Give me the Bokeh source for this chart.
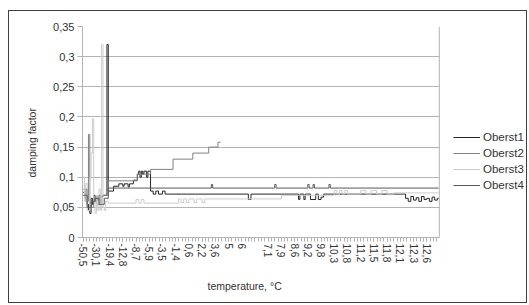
from bokeh.plotting import figure
from bokeh.models import FixedTicker, Legend, LegendItem, Range1d, Span, Title
from bokeh.embed import file_html
from bokeh.resources import INLINE

# ---- data -------------------------------------------------------------
n_categories = 270
label_every = 10
x_labels = ["-50,5", "-30,1", "-19,4", "-12,8", "-8,7", "-5,9", "-3,5", "-1,4",
            "0,6", "2,2", "3,6", "5", "6", "", "7,1", "7,9", "8,6", "9,2", "9,8",
            "10,3", "10,8", "11,2", "11,5", "11,8", "12,1", "12,3", "12,6"]

y_ticks = [0, 0.05, 0.1, 0.15, 0.2, 0.25, 0.3, 0.35]
y_labels = ["0", "0,05", "0,1", "0,15", "0,2", "0,25", "0,3", "0,35"]

x_title = "temperature, °C"
y_title = "damping factor"

# each series: category index where a value starts, and the value
o1_idx = [0, 1, 2, 3, 4, 5, 6, 7, 8, 9, 10, 11, 12, 13, 14, 15, 16, 17, 18, 19,
          23, 27, 30, 31, 34, 35, 38, 41, 42, 43, 44, 45, 46, 48, 49, 51, 53, 55, 57, 60, 62,
          125, 127, 163, 164, 167, 168, 172, 176, 178, 180, 182,
          244, 246, 248, 250, 252, 254, 256, 258, 260, 262, 264, 266, 268, 269]
o1_val = [0.075, 0.065, 0.08, 0.055, 0.045, 0.04, 0.065, 0.055, 0.07, 0.06, 0.068, 0.062,
          0.07, 0.058, 0.068, 0.07, 0.07, 0.07, 0.32, 0.077,
          0.085, 0.089, 0.085, 0.089, 0.084, 0.089, 0.095, 0.105, 0.11, 0.1, 0.11, 0.105,
          0.11, 0.1, 0.11, 0.077, 0.072, 0.077, 0.072, 0.077, 0.072,
          0.063, 0.072, 0.063, 0.072, 0.063, 0.072, 0.063, 0.072, 0.063, 0.067, 0.072,
          0.065, 0.06, 0.068, 0.062, 0.066, 0.06, 0.068, 0.063, 0.065, 0.06, 0.067, 0.062,
          0.065, 0.065]

o2_idx = [0, 2, 4, 5, 6, 8, 10, 12, 14, 17, 19, 41, 51, 68, 83, 95, 102, 104]
o2_val = [0.08, 0.06, 0.171, 0.045, 0.05, 0.06, 0.055, 0.065, 0.07, 0.07, 0.094, 0.105,
          0.113, 0.13, 0.14, 0.15, 0.158, 0.158]

o3_idx = [0, 1, 2, 3, 5, 6, 7, 8, 9, 10, 11, 12, 13, 14, 15, 16, 17, 19,
          40, 42, 44, 46,
          72, 74, 76, 78, 80, 84, 86, 90, 92,
          150,
          190, 192, 194, 196, 198, 200,
          210, 214, 218, 222, 226, 230, 235,
          269]
o3_val = [0.1, 0.06, 0.09, 0.045, 0.1, 0.14, 0.197, 0.06, 0.04, 0.07, 0.045, 0.08, 0.045,
          0.32, 0.05, 0.045, 0.06, 0.057,
          0.063, 0.057, 0.063, 0.057,
          0.064, 0.058, 0.064, 0.058, 0.064, 0.058, 0.064, 0.058, 0.064,
          0.07,
          0.078, 0.072, 0.078, 0.072, 0.078, 0.072,
          0.078, 0.072, 0.078, 0.072, 0.078, 0.072, 0.074,
          0.074]

o4_idx = [0, 3, 6, 9, 12, 16, 19, 97, 98, 145, 146, 170, 171, 174, 175, 186, 187, 269]
o4_val = [0.07, 0.05, 0.06, 0.065, 0.055, 0.065, 0.082, 0.088, 0.082, 0.088, 0.082,
          0.088, 0.082, 0.088, 0.082, 0.088, 0.082, 0.082]

series = [
    ("Oberst1", o1_idx, o1_val, "#262626"),
    ("Oberst2", o2_idx, o2_val, "#808080"),
    ("Oberst3", o3_idx, o3_val, "#cccccc"),
    ("Oberst4", o4_idx, o4_val, "#595959"),
]

# ---- figure -----------------------------------------------------------
FONT = "Liberation Sans"
TXT = "#333333"
GRID = "#b3b3b3"
x_end = n_categories - 0.5          # last category edge (plot-wall right side)
x_view_end = 337.0                  # frame also hosts the legend on the right

p = figure(width=519, height=293, output_backend="svg", toolbar_location=None,
           x_range=Range1d(-0.5, x_view_end), y_range=Range1d(0, 0.35),
           min_border_left=73, min_border_right=0, min_border_top=15,
           min_border_bottom=65)
p.styles = {"border": "1px solid #404040", "margin-left": "8px", "margin-top": "10px"}
p.outline_line_color = None
p.background_fill_color = "white"
p.border_fill_color = "white"

p.xgrid.visible = False
p.ygrid.grid_line_color = GRID
p.ygrid.ticker = FixedTicker(ticks=y_ticks)
if "cross_bounds" in p.ygrid[0].properties():
    p.ygrid.cross_bounds = (-0.5, x_end)

# right side of the plot wall
p.add_layout(Span(location=x_end, dimension="height", line_color=GRID, line_width=1))

# y axis
p.yaxis.ticker = FixedTicker(ticks=y_ticks)
p.yaxis.major_label_overrides = {t: l for t, l in zip(y_ticks, y_labels)}
p.yaxis.minor_tick_line_color = None
p.yaxis.major_tick_in = 0
p.yaxis.major_tick_out = 5
p.yaxis.major_label_standoff = 3

# x axis
p.xaxis.bounds = (-0.5, x_end)
p.xaxis.ticker = FixedTicker(ticks=[label_every * j for j in range(len(x_labels))],
                             minor_ticks=[2.5 * k for k in range(108)])
p.xaxis.major_label_overrides = {label_every * j: l for j, l in enumerate(x_labels)}
p.xaxis.major_label_orientation = "vertical"
p.xaxis.major_tick_in = 0
p.xaxis.major_tick_out = 4
p.xaxis.minor_tick_in = 0
p.xaxis.minor_tick_out = 4
p.xaxis.major_label_standoff = 2

for ax in (p.xaxis, p.yaxis):
    ax.axis_line_color = GRID
    ax.major_tick_line_color = GRID
    ax.major_label_text_font = FONT
    ax.major_label_text_color = TXT
p.xaxis.minor_tick_line_color = GRID
p.yaxis.major_label_text_font_size = "11px"
p.xaxis.major_label_text_font_size = "10px"

# axis titles (centred on the whole diagram, as in the original)
p.add_layout(Title(text=x_title, align="left", offset=125, vertical_align="top",
                   standoff=21, text_font=FONT, text_font_size="10.5px",
                   text_font_style="normal", text_color=TXT), "below")
p.add_layout(Title(text=y_title, align="left", offset=60, vertical_align="bottom",
                   standoff=26, text_font=FONT, text_font_size="10.5px",
                   text_font_style="normal", text_color=TXT), "left")

items = []
for name, xs, ys, color in series:
    r = p.step(xs, ys, mode="after", line_color=color, line_width=1)
    items.append(LegendItem(label=name, renderers=[r]))

legend = Legend(items=items, location=(371, 44), orientation="vertical",
                glyph_width=27, glyph_height=16, label_standoff=3, spacing=0,
                padding=5, margin=0, border_line_color=None,
                background_fill_alpha=0, label_text_font=FONT,
                label_text_font_size="11.5px", label_text_color=TXT)
p.add_layout(legend)

open("out.html", "w").write(file_html(p, INLINE))
